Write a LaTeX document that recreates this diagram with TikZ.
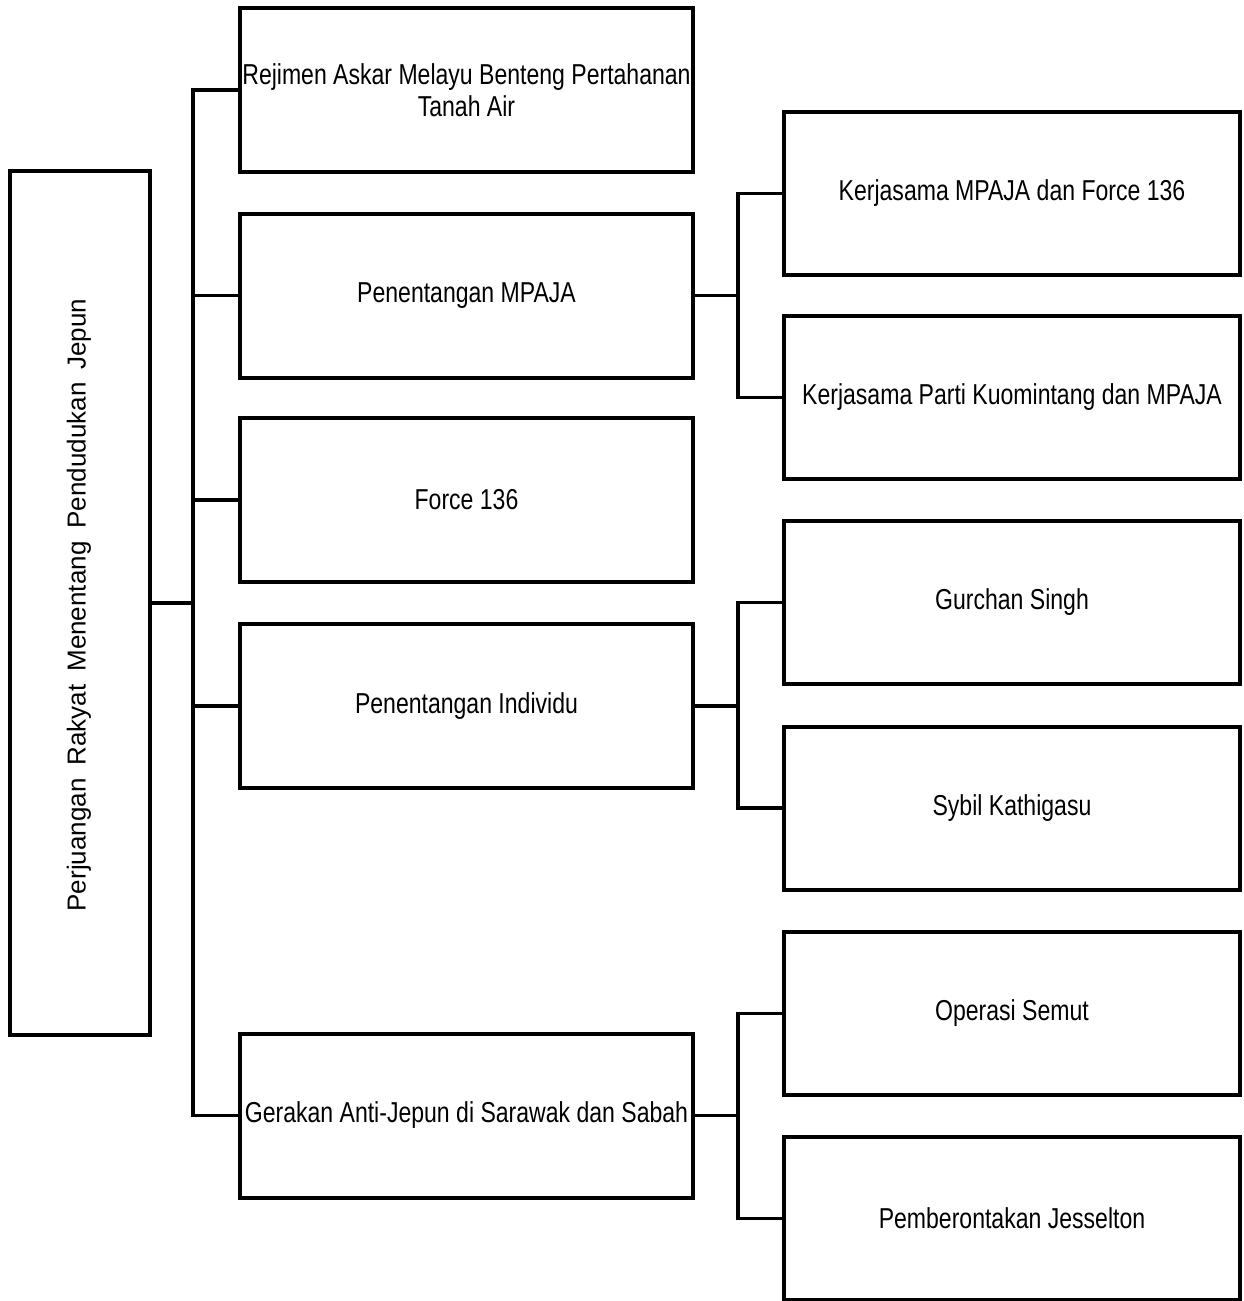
\documentclass[tikz,border=0pt]{standalone}
\usepackage{fontspec}
\setmainfont{Liberation Sans}[FakeStretch=0.8]
\newfontfamily\plainsans{Liberation Sans}
\begin{document}
\begin{tikzpicture}[x=0.5pt,y=-0.5pt,
  box/.style={draw=black,line width=2pt,line join=miter,rectangle,inner sep=0pt,align=center,
    font=\fontsize{14.4}{16}\selectfont},
  midbox/.style={box,minimum width=226.5pt,minimum height=82pt},
  rbox/.style={box,minimum width=228pt,minimum height=81.5pt},
  conn/.style={draw=black,line width=1.9pt,line join=miter,line cap=rect}]
\useasboundingbox[fill=white] (0,0) rectangle (1243,1301);
% left root
\node[box,minimum width=70pt,minimum height=432pt] (L) at (80,603) {};
\node[rotate=90,inner sep=0pt,font=\plainsans\fontsize{13}{15}\selectfont] (Lt) at (79,605) {\spaceskip=0.5em\relax Perjuangan Rakyat Menentang Pendudukan Jepun};
% middle
\node[midbox] (B1) at (466.5,90) {Rejimen Askar Melayu Benteng Pertahanan\\Tanah Air};
\node[midbox] (B2) at (466.5,295.5) {Penentangan MPAJA};
\node[midbox] (B3) at (466.5,500) {Force 136};
\node[midbox] (B4) at (466.5,706) {Penentangan Individu};
\node[midbox] (B5) at (466.5,1115.5) {Gerakan Anti-Jepun di Sarawak dan Sabah};
% right
\node[rbox] (R1) at (1012,193.5) {Kerjasama MPAJA dan Force 136};
\node[rbox] (R2) at (1012,397.5) {Kerjasama Parti Kuomintang dan MPAJA};
\node[rbox] (R3) at (1012,602.5) {Gurchan Singh};
\node[rbox] (R4) at (1012,808) {Sybil Kathigasu};
\node[rbox] (R5) at (1012,1013.5) {Operasi Semut};
\node[rbox] (R6) at (1012,1218.5) {Pemberontakan Jesselton};
% trunk coordinates
\coordinate (T) at (193,0);
\coordinate (U) at (738,0);
% left trunk
\draw[conn,line width=2.1pt] (L.east) -- (L.east -| T);
\draw[conn] (B1.west) -- (B1.west -| T) -- (B5.west -| T) -- (B5.west);
\draw[conn] (B2.west) -- (B2.west -| T);
\draw[conn] (B3.west) -- (B3.west -| T);
\draw[conn] (B4.west) -- (B4.west -| T);
% right connectors
\draw[conn] (B2.east) -- (B2.east -| U);
\draw[conn] (R1.west) -- (R1.west -| U) -- (R2.west -| U) -- (R2.west);
\draw[conn] (B4.east) -- (B4.east -| U);
\draw[conn] (R3.west) -- (R3.west -| U) -- (R4.west -| U) -- (R4.west);
\draw[conn] (B5.east) -- (B5.east -| U);
\draw[conn] (R5.west) -- (R5.west -| U) -- (R6.west -| U) -- (R6.west);
\end{tikzpicture}
\end{document}
